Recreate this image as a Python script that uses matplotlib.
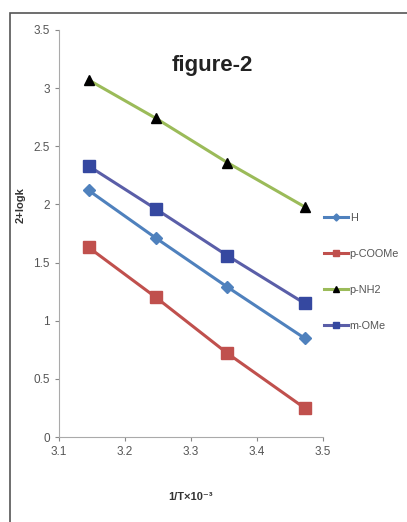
import matplotlib
matplotlib.use('Agg')
import matplotlib.pyplot as plt
from matplotlib.patches import Rectangle

# 1/T x 10^-3 values and 2+logk for each substituent
inv_T = [3.145, 3.247, 3.355, 3.472]
y_H = [2.12, 1.71, 1.29, 0.85]
y_COOMe = [1.63, 1.20, 0.72, 0.25]
y_NH2 = [3.07, 2.74, 2.36, 1.98]
y_OMe = [2.33, 1.96, 1.56, 1.15]

x_ticks = [3.1, 3.2, 3.3, 3.4, 3.5]
y_ticks = [0, 0.5, 1, 1.5, 2, 2.5, 3, 3.5]

plt.rcParams['font.family'] = ['Liberation Sans', 'DejaVu Sans']

fig = plt.figure(figsize=(4.07, 5.22), dpi=100)
fig.patch.set_facecolor('white')
# chart frame
fig.patches.append(Rectangle((10/407, -0.01), 1.0, 1 - 13/522 + 0.01, transform=fig.transFigure,
                             fill=False, edgecolor='#555555', linewidth=1.2))

ax = fig.add_axes([59/407, 1 - 437/522, 264/407, 407/522])

ax.plot(inv_T, y_H, color='#4F81BD', lw=2.2, marker='D', ms=6,
        mfc='#4F81BD', mec='#4F81BD', label='H')
ax.plot(inv_T, y_COOMe, color='#C0504D', lw=2.2, marker='s', ms=8,
        mfc='#C0504D', mec='#C0504D', label='p-COOMe')
ax.plot(inv_T, y_NH2, color='#9BBB59', lw=2.2, marker='^', ms=7,
        mfc='black', mec='black', label='p-NH2')
ax.plot(inv_T, y_OMe, color='#5A5EA8', lw=2.2, marker='s', ms=8,
        mfc='#3548A0', mec='#3548A0', label='m-OMe')

ax.set_xlim(3.1, 3.5)
ax.set_ylim(0, 3.5)
ax.set_xticks(x_ticks)
ax.set_xticklabels(['3.1', '3.2', '3.3', '3.4', '3.5'])
ax.set_yticks(y_ticks)
ax.set_yticklabels(['0', '0.5', '1', '1.5', '2', '2.5', '3', '3.5'])
ax.tick_params(colors='#888888', labelcolor='#555555', labelsize=8.5, length=3, direction='out')
for s in ['top', 'right']:
    ax.spines[s].set_visible(False)
for s in ['left', 'bottom']:
    ax.spines[s].set_color('#aaaaaa')

ax.set_title('figure-2', fontsize=16, fontweight='bold', x=0.58, y=0.88, color='#222222')
ax.set_ylabel('2+logk', fontsize=8, fontweight='bold', color='#333333')
ax.yaxis.set_label_coords(-0.125, 0.57)
ax.set_xlabel('1/T\u00d710\u207b\u00b3', fontsize=8, fontweight='bold', color='#333333')
ax.xaxis.set_label_coords(0.5, -0.135)

ax.legend(loc='upper left', bbox_to_anchor=(314/407, 1 - 203/522), bbox_transform=fig.transFigure,
          frameon=False, fontsize=7.8, labelspacing=2.4, handlelength=2.2, handletextpad=0.2,
          markerscale=0.6, labelcolor='#555555')

fig.savefig('out.png', dpi=100)
